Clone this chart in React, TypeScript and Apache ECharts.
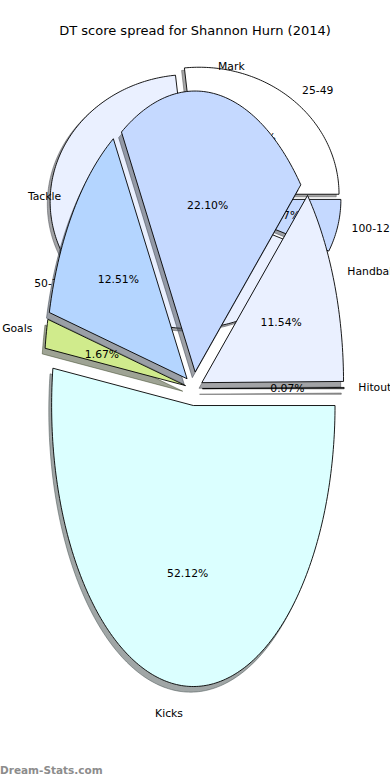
import { useEffect, useRef } from 'react';
import * as echarts from 'echarts';

// ---- data ----
const chartTitle = 'DT score spread for Shannon Hurn (2014)';
const statCategories = ['Hitout', 'Handball', 'Mark', 'Tackle', 'Goals', 'Kicks'];
const statValues = [1, 166, 318, 180, 24, 750];
const scoreCategories = ['25-49', '50-74', '100-124'];
const scoreValues = [4, 10, 1];
const watermark = 'Dream-Stats.com';

// ---- styles ----
const sliceColors = ['#ffffff', '#eaf0ff', '#c5d9ff', '#b4d5ff', '#d0eb8c', '#dbffff'];
const FONT = "'DejaVu Sans', sans-serif";
const LABEL_SIZE = 10.8;

type Layout = { cx: number; cy: number; rx: number; ry: number; explode: number; R: number };
const scoreLayout: Layout = { cx: 195, cy: 198.3, rx: 140, ry: 127, explode: 0.043, R: 1.25 };
const statLayout: Layout = { cx: 193.9, cy: 388.7, rx: 141.7, ry: 281, explode: 0.06, R: 1.25 };

type Wedge = { a1: number; a2: number; mid: number; pct: string };

function toWedges(values: number[]): Wedge[] {
  const total = values.reduce((s, v) => s + v, 0);
  let acc = 0;
  return values.map((v) => {
    const a1 = (acc / total) * 360;
    acc += v;
    const a2 = (acc / total) * 360;
    return { a1, a2, mid: (a1 + a2) / 2, pct: ((v / total) * 100).toFixed(2) + '%' };
  });
}

function hexToRgb(h: string) {
  const n = parseInt(h.slice(1), 16);
  return [(n >> 16) & 255, (n >> 8) & 255, n & 255];
}
function shadowColor(h: string) {
  const [r, g, b] = hexToRgb(h).map((c) => Math.round(c * 0.3));
  return `rgba(${r},${g},${b},0.5)`;
}

function makeRender(ws: Wedge[], labels: string[], layout: Layout, mode: 'shadow' | 'wedge' | 'text') {
  return (params: any, api: any) => {
    const i = params.dataIndex;
    const w = ws[i];
    const m = (w.mid * Math.PI) / 180;
    const ox = layout.explode * Math.cos(m);
    const oy = layout.explode * Math.sin(m);
    if (mode === 'text') {
      const lx = ox + 1.1 * Math.cos(m);
      const ly = oy + 1.1 * Math.sin(m);
      const lp = api.coord([lx, ly]);
      const pp = api.coord([ox + 0.6 * Math.cos(m), oy + 0.6 * Math.sin(m)]);
      const align = lx > 0 ? 'left' : 'right';
      return {
        type: 'group',
        children: [
          {
            type: 'text',
            x: lp[0],
            y: lp[1],
            style: {
              text: labels[i],
              fontSize: LABEL_SIZE,
              fontFamily: FONT,
              fill: '#000',
              align,
              verticalAlign: 'middle',
              textAlign: align,
              textVerticalAlign: 'middle',
            },
          },
          {
            type: 'text',
            x: pp[0],
            y: pp[1],
            style: {
              text: w.pct,
              fontSize: LABEL_SIZE,
              fontFamily: FONT,
              fill: '#000',
              align: 'center',
              verticalAlign: 'middle',
              textAlign: 'center',
              textVerticalAlign: 'middle',
            },
          },
        ],
      };
    }
    const sx = mode === 'shadow' ? -0.02 : 0;
    const sy = mode === 'shadow' ? -0.02 : 0;
    const pts: number[][] = [api.coord([ox + sx, oy + sy])];
    const steps = Math.max(2, Math.ceil(w.a2 - w.a1));
    for (let k = 0; k <= steps; k++) {
      const t = ((w.a1 + ((w.a2 - w.a1) * k) / steps) * Math.PI) / 180;
      pts.push(api.coord([ox + sx + Math.cos(t), oy + sy + Math.sin(t)]));
    }
    const col = sliceColors[i % sliceColors.length];
    return {
      type: 'polygon',
      shape: { points: pts },
      style:
        mode === 'shadow'
          ? { fill: shadowColor(col), stroke: shadowColor(col), lineWidth: 1 }
          : { fill: col, stroke: '#000', lineWidth: 0.9, lineJoin: 'miter' },
    };
  };
}

function gridFor(l: Layout) {
  return {
    left: l.cx - l.rx * l.R,
    top: l.cy - l.ry * l.R,
    width: 2 * l.rx * l.R,
    height: 2 * l.ry * l.R,
    containLabel: false,
  };
}

function axisFor(l: Layout, idx: number) {
  return {
    type: 'value' as const,
    gridIndex: idx,
    min: -l.R,
    max: l.R,
    show: false,
  };
}

export default function App() {
  const ref = useRef<HTMLDivElement>(null);
  useEffect(() => {
    document.body.style.margin = '0';
    if (!ref.current) return;
    const chart = echarts.init(ref.current, undefined, { renderer: 'svg' });
    const scoreW = toWedges(scoreValues);
    const statW = toWedges(statValues);
    const scoreData = scoreValues.map((v, i) => [i, v]);
    const statData = statValues.map((v, i) => [i, v]);
    const series: any[] = [];
    const add = (ws: Wedge[], labels: string[], layout: Layout, data: any[], idx: number, baseZ: number) => {
      (['shadow', 'wedge', 'text'] as const).forEach((mode, k) => {
        series.push({
          type: 'custom',
          coordinateSystem: 'cartesian2d',
          xAxisIndex: idx,
          yAxisIndex: idx,
          data,
          clip: false,
          silent: true,
          z: baseZ + k,
          renderItem: makeRender(ws, labels, layout, mode),
        });
      });
    };
    add(scoreW, scoreCategories, scoreLayout, scoreData, 0, 1);
    add(statW, statCategories, statLayout, statData, 1, 4);
    chart.setOption({
      animation: false,
      backgroundColor: '#ffffff',
      grid: [gridFor(scoreLayout), gridFor(statLayout)],
      xAxis: [axisFor(scoreLayout, 0), axisFor(statLayout, 1)],
      yAxis: [axisFor(scoreLayout, 0), axisFor(statLayout, 1)],
      tooltip: { show: false },
      graphic: [
        {
          type: 'text',
          x: 195,
          y: 30,
          z: 20,
          style: {
            text: chartTitle,
            fontSize: 13,
            fontFamily: FONT,
            fill: '#000',
            align: 'center',
            verticalAlign: 'middle',
            textAlign: 'center',
            textVerticalAlign: 'middle',
          },
        },
        {
          type: 'text',
          x: 0,
          y: 770,
          z: 20,
          style: {
            text: watermark,
            fontSize: 10.5,
            fontWeight: 'bold',
            fontFamily: FONT,
            fill: '#8c8c8c',
            align: 'left',
            verticalAlign: 'middle',
            textAlign: 'left',
            textVerticalAlign: 'middle',
          },
        },
      ],
      series,
    });
    chart.resize();
    return () => chart.dispose();
  }, []);
  return <div ref={ref} style={{ width: 390, height: 780, background: '#fff' }} />;
}
